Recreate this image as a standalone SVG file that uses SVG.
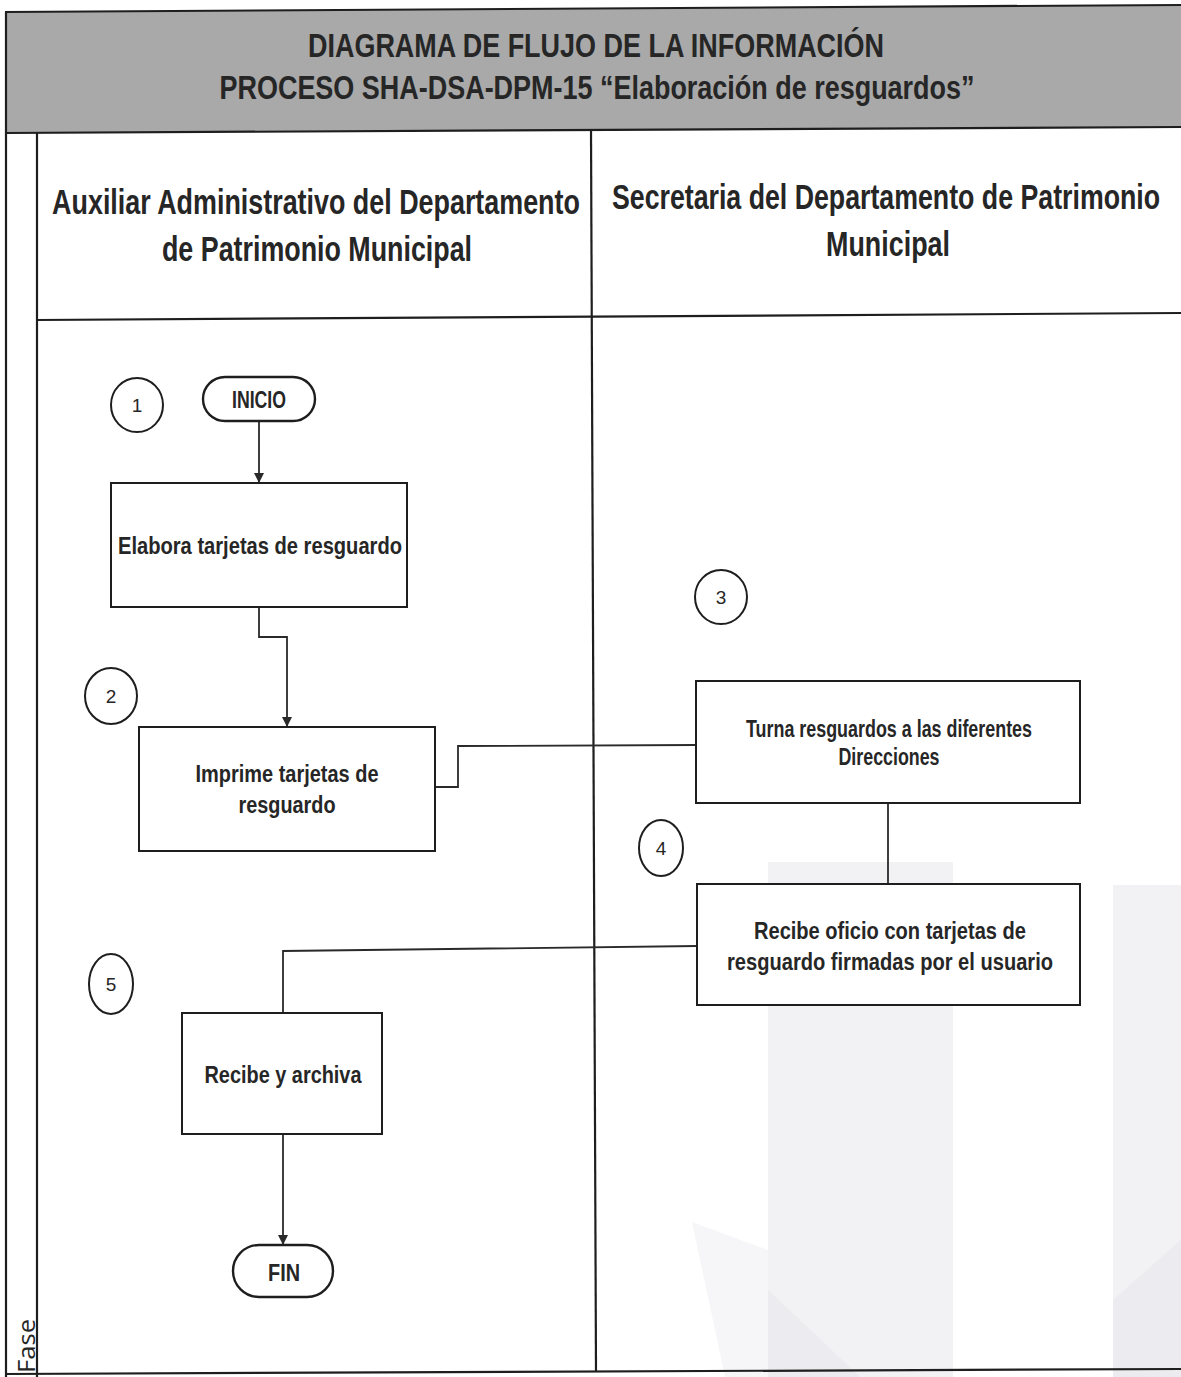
<svg xmlns="http://www.w3.org/2000/svg" width="1181" height="1377" viewBox="0 0 1181 1377">
  <style>
    .frame { stroke: #1e1e1e; stroke-width: 2.2; fill: none; }
    .box { fill: #ffffff; stroke: #1e1e1e; stroke-width: 2; }
    .term { fill: #ffffff; stroke: #1e1e1e; stroke-width: 2.4; }
    .num { fill: #ffffff; stroke: #1e1e1e; stroke-width: 2; }
    .wire { fill: none; stroke: #2a2a2a; stroke-width: 1.8; }
    .t { font-family: "Liberation Sans Narrow", "Liberation Sans", Arial, sans-serif; font-weight: bold; fill: #262626; text-anchor: middle; }
    .title { font-size: 33px; }
    .lane { font-size: 35px; }
    .lbl { font-size: 23px; }
    .digit { font-family: "Liberation Sans Narrow", "Liberation Sans", Arial, sans-serif; font-size: 19px; fill: #262626; text-anchor: middle; }
    .fase { font-family: "Open Sans", "Liberation Sans", sans-serif; font-size: 24px; fill: #262626; }
    .wm { fill: #f2f2f5; }
  </style>
  <defs>
    <marker id="arrow" viewBox="0 0 10 10" refX="10" refY="5" markerWidth="10" markerHeight="10" markerUnits="userSpaceOnUse" orient="auto">
      <path d="M0,0 L10,5 L0,10 z" fill="#2a2a2a"/>
    </marker>
  </defs>

  <rect x="0" y="0" width="1181" height="1377" fill="#ffffff"/>

  <!-- faint background watermark -->
  <g id="watermark">
    <rect class="wm" x="768" y="862" width="185" height="515"/>
    <rect class="wm" x="1113" y="885" width="68" height="492"/>
    <polygon class="wm" points="692,1222 768,1250 768,1377 725,1377" opacity="0.7"/>
    <polygon points="768,1290 860,1377 768,1377" fill="#ebebf0"/>
    <polygon points="1113,1300 1181,1240 1181,1377 1113,1377" fill="#ebebf0"/>
  </g>

  <!-- header band -->
  <g id="header">
    <polygon points="5,12 1181,5 1181,127 5,133" fill="#a9a9a9"/>
    <line class="frame" x1="5" y1="12" x2="1181" y2="5"/>
    <line class="frame" x1="5" y1="133" x2="1181" y2="127"/>
    <text class="t title" x="596" y="57" textLength="576" lengthAdjust="spacingAndGlyphs">DIAGRAMA DE FLUJO DE LA INFORMACIÓN</text>
    <text class="t title" x="597" y="99" textLength="755" lengthAdjust="spacingAndGlyphs">PROCESO SHA-DSA-DPM-15 “Elaboración de resguardos”</text>
  </g>

  <!-- swimlane frame -->
  <g id="lanes">
    <line class="frame" x1="6" y1="12" x2="6" y2="1377"/>
    <line class="frame" x1="37" y1="133" x2="37" y2="1377"/>
    <line class="frame" x1="591" y1="129" x2="596" y2="1372"/>
    <line class="frame" x1="37" y1="320" x2="1181" y2="313"/>
    <line class="frame" x1="6" y1="1374" x2="1181" y2="1369"/>
    <!-- lane headings: condensed lettering -->
    <text class="t lane" transform="translate(316,214) scale(0.7,1)" textLength="754" lengthAdjust="spacingAndGlyphs">Auxiliar Administrativo del Departamento</text>
    <text class="t lane" transform="translate(317,261) scale(0.7,1)" textLength="443" lengthAdjust="spacingAndGlyphs">de Patrimonio Municipal</text>
    <text class="t lane" transform="translate(886,209) scale(0.7,1)" textLength="783" lengthAdjust="spacingAndGlyphs">Secretaria del Departamento de Patrimonio</text>
    <text class="t lane" transform="translate(888,256) scale(0.7,1)" textLength="177" lengthAdjust="spacingAndGlyphs">Municipal</text>
    <text class="fase" transform="translate(35,1373) rotate(-90)" textLength="54" lengthAdjust="spacingAndGlyphs">Fase</text>
  </g>

  <!-- connectors -->
  <g id="connectors">
    <line class="wire" x1="259" y1="421" x2="259" y2="483" marker-end="url(#arrow)"/>
    <polyline class="wire" points="259,607 259,637 287,637 287,727" marker-end="url(#arrow)"/>
    <polyline class="wire" points="435,787 458,787 458,746 696,745"/>
    <line class="wire" x1="888" y1="803" x2="888" y2="884"/>
    <polyline class="wire" points="697,946 283,951 283,1013"/>
    <line class="wire" x1="283" y1="1134" x2="283" y2="1245" marker-end="url(#arrow)"/>
  </g>

  <!-- step numbers -->
  <g id="step1"><ellipse class="num" cx="137" cy="405" rx="26" ry="27"/><text class="digit" x="137" y="412">1</text></g>
  <g id="step2"><ellipse class="num" cx="111" cy="696" rx="26" ry="28"/><text class="digit" x="111" y="703">2</text></g>
  <g id="step3"><ellipse class="num" cx="721" cy="597" rx="26" ry="27"/><text class="digit" x="721" y="604">3</text></g>
  <g id="step4"><ellipse class="num" cx="661" cy="848" rx="22" ry="28"/><text class="digit" x="661" y="855">4</text></g>
  <g id="step5"><ellipse class="num" cx="111" cy="984" rx="22" ry="30"/><text class="digit" x="111" y="991">5</text></g>

  <!-- process nodes -->
  <g id="inicio">
    <rect class="term" x="203" y="377" width="112" height="44" rx="22" ry="22"/>
    <text class="t lbl" x="259" y="408" textLength="54" lengthAdjust="spacingAndGlyphs">INICIO</text>
  </g>
  <g id="elabora">
    <rect class="box" x="111" y="483" width="296" height="124"/>
    <text class="t lbl" x="260" y="554" font-size="24" textLength="284" lengthAdjust="spacingAndGlyphs">Elabora tarjetas de resguardo</text>
  </g>
  <g id="imprime">
    <rect class="box" x="139" y="727" width="296" height="124"/>
    <text class="t lbl" x="287" y="782" textLength="183" lengthAdjust="spacingAndGlyphs">Imprime tarjetas de</text>
    <text class="t lbl" x="287" y="813" textLength="97" lengthAdjust="spacingAndGlyphs">resguardo</text>
  </g>
  <g id="turna">
    <rect class="box" x="696" y="681" width="384" height="122"/>
    <text class="t lbl" x="889" y="737" font-size="22" textLength="286" lengthAdjust="spacingAndGlyphs">Turna resguardos a las diferentes</text>
    <text class="t lbl" x="889" y="765" font-size="22" textLength="101" lengthAdjust="spacingAndGlyphs">Direcciones</text>
  </g>
  <g id="recibe-oficio">
    <rect class="box" x="697" y="884" width="383" height="121"/>
    <text class="t lbl" x="890" y="939" font-size="24" textLength="272" lengthAdjust="spacingAndGlyphs">Recibe oficio con tarjetas de</text>
    <text class="t lbl" x="890" y="970" font-size="24" textLength="326" lengthAdjust="spacingAndGlyphs">resguardo firmadas por el usuario</text>
  </g>
  <g id="archiva">
    <rect class="box" x="182" y="1013" width="200" height="121"/>
    <text class="t lbl" x="283" y="1083" font-size="24" textLength="157" lengthAdjust="spacingAndGlyphs">Recibe y archiva</text>
  </g>
  <g id="fin">
    <rect class="term" x="233" y="1245" width="100" height="52" rx="26" ry="26"/>
    <text class="t lbl" x="284" y="1281" textLength="32" lengthAdjust="spacingAndGlyphs">FIN</text>
  </g>
</svg>
